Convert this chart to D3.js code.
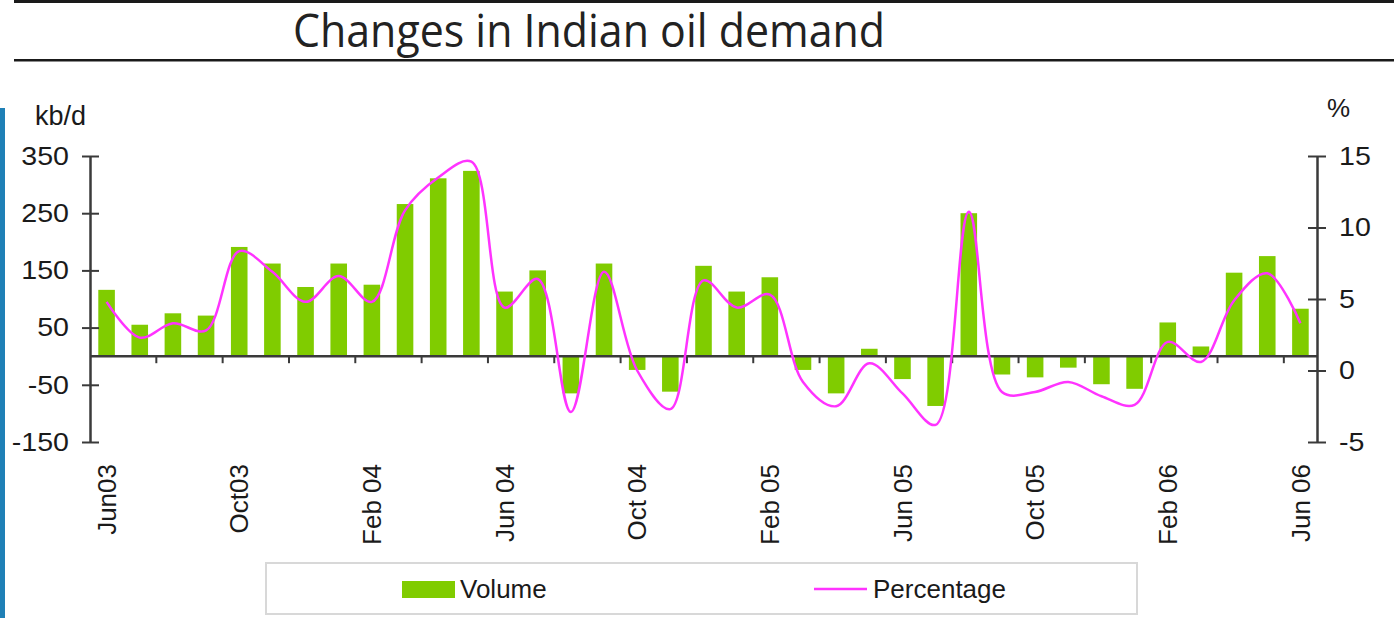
<!DOCTYPE html>
<html>
<head>
  <meta charset="UTF-8">
  <title>Changes in Indian oil demand</title>
  <script src="https://d3js.org/d3.v7.min.js"></script>
  <style>
    body { margin: 0; background: #fff; }
    text { font-family: "Liberation Sans", Arial, sans-serif; fill: #1a1a1a; }
    .title { font-family: "Open Sans", sans-serif; fill: #222; }
    .axis path, .axis line { stroke: #3a3a3a; }
  </style>
</head>
<body>
<svg width="1394" height="618"></svg>
<script>
// months Jun 2003 .. Jun 2006
var months = ["Jun03","Jul03","Aug03","Sep03","Oct03","Nov03","Dec03","Jan04","Feb04","Mar04",
  "Apr04","May04","Jun04","Jul04","Aug04","Sep04","Oct04","Nov04","Dec04","Jan05","Feb05",
  "Mar05","Apr05","May05","Jun05","Jul05","Aug05","Sep05","Oct05","Nov05","Dec05","Jan06",
  "Feb06","Mar06","Apr06","May06","Jun06"]

// kb/d
var volume = [116,55,75,71,191,162,121,162,125,266,311,324,113,150,
  -65,162,-24,-62,158,113,138,-24,-65,13,-40,-87,250,-32,
  -37,-20,-49,-57,59,17,146,175,83]

// %
var percent = [4.8,2.3,3.3,2.8,8.35,6.9,4.8,6.6,4.8,11.2,13.5,14.6,4.4,6.4,
  -2.9,6.9,0.0,-2.7,6.3,4.4,5.3,-0.8,-2.5,0.5,-1.6,-3.8,11.1,-1.5,
  -1.5,-0.8,-1.8,-2.4,2.0,0.6,4.9,6.8,3.3]

var xLabels = ["Jun03","Oct03","Feb 04","Jun 04","Oct 04","Feb 05","Jun 05","Oct 05","Feb 06","Jun 06"]
var leftTicks = [-150,-50,50,150,250,350]
var rightTicks = [-5,0,5,10,15]

var svg = d3.select("svg")
var plotL = 90, plotR = 1317, plotT = 156, plotB = 442

var x = d3.scaleBand().domain(months).range([plotL, plotR]).paddingInner(0.5).paddingOuter(0.25)
var yL = d3.scaleLinear().domain([-150, 350]).range([plotB, plotT])
var yR = d3.scaleLinear().domain([-5, 15]).range([plotB, plotT])

// plain hyphen for negatives, as in the source
function fmt(d) { return String(d) }

// header rules + title
svg.append("rect").attr("x", 14).attr("y", 0).attr("width", 1380).attr("height", 3).attr("fill", "#1a1a1a")
svg.append("rect").attr("x", 14).attr("y", 59).attr("width", 1380).attr("height", 2.5).attr("fill", "#1a1a1a")
svg.append("text").attr("class", "title")
  .attr("x", 293).attr("y", 47)
  .attr("font-size", 46)
  .attr("textLength", 592).attr("lengthAdjust", "spacingAndGlyphs")
  .text("Changes in Indian oil demand")

// blue side strip
svg.append("rect").attr("x", 0).attr("y", 108).attr("width", 5).attr("height", 510).attr("fill", "#1f80b6")

// bars
svg.append("g").selectAll("rect")
  .data(volume)
  .enter().append("rect")
  .attr("x", function(d, i) { return x(months[i]) })
  .attr("width", x.bandwidth())
  .attr("y", function(d) { return yL(Math.max(0, d)) })
  .attr("height", function(d) { return Math.abs(yL(d) - yL(0)) })
  .attr("fill", "#80cc00")

// category axis
var gap = (x.step() - x.bandwidth()) / 2
var xg = svg.append("g").attr("class", "axis")
xg.append("line").attr("x1", plotL).attr("x2", plotR)
  .attr("y1", yL(0)).attr("y2", yL(0)).attr("stroke-width", 2.5)
xg.selectAll(".xt")
  .data(months.filter(function(d, i) { return i % 2 == 0 && i > 0 }))
  .enter().append("line")
  .attr("x1", function(d) { return x(d) - gap }).attr("x2", function(d) { return x(d) - gap })
  .attr("y1", yL(0)).attr("y2", yL(0) + 7).attr("stroke-width", 2)
xg.selectAll(".xl")
  .data(xLabels)
  .enter().append("text")
  .attr("transform", function(d, i) {
    return "translate(" + (x(months[i * 4]) + x.bandwidth() / 2) + ",464) rotate(-90)"
  })
  .attr("text-anchor", "end").attr("dy", "0.35em")
  .attr("font-size", 26)
  .text(function(d) { return d })

// left axis
var gl = svg.append("g").attr("class", "axis")
  .attr("transform", "translate(" + plotL + ",0)")
  .call(d3.axisLeft(yL).tickValues(leftTicks).tickFormat(fmt).tickSize(0).tickPadding(21))
gl.select(".domain").attr("stroke-width", 2.5)
gl.selectAll(".tick line").attr("x1", -8).attr("x2", 9).attr("stroke-width", 2)
gl.selectAll(".tick text").attr("font-size", 26).attr("font-family", null).attr("fill", null)
svg.append("text").attr("x", 35).attr("y", 125).attr("font-size", 27).text("kb/d")

// right axis
var gr = svg.append("g").attr("class", "axis")
  .attr("transform", "translate(" + plotR + ",0)")
  .call(d3.axisRight(yR).tickValues(rightTicks).tickFormat(fmt).tickSize(0).tickPadding(22))
gr.select(".domain").attr("stroke-width", 2.5)
gr.selectAll(".tick line").attr("x1", -9).attr("x2", 9).attr("stroke-width", 2)
gr.selectAll(".tick text").attr("font-size", 26).attr("font-family", null).attr("fill", null)
svg.append("text").attr("x", 1327).attr("y", 117).attr("font-size", 26).text("%")

// the source text looks a little wider than Arial
svg.selectAll(".axis .tick text").each(function() {
  var w = this.getComputedTextLength()
  d3.select(this).attr("textLength", w * 1.1).attr("lengthAdjust", "spacingAndGlyphs")
})

// percentage line
var line = d3.line()
  .x(function(d, i) { return x(months[i]) + x.bandwidth() / 2 })
  .y(function(d) { return yR(d) })
  .curve(d3.curveCatmullRom.alpha(0.5))
svg.append("path").datum(percent)
  .attr("d", line)
  .attr("fill", "none").attr("stroke", "#ff33ff").attr("stroke-width", 2.5)

// legend
var lg = svg.append("g")
lg.append("rect").attr("x", 266).attr("y", 563).attr("width", 871).attr("height", 51)
  .attr("fill", "#fff").attr("stroke", "#d8d8d8").attr("stroke-width", 2)
lg.append("rect").attr("x", 402).attr("y", 581).attr("width", 53).attr("height", 17).attr("fill", "#80cc00")
lg.append("text").attr("x", 460).attr("y", 598).attr("font-size", 26).text("Volume")
lg.append("line").attr("x1", 814).attr("x2", 867).attr("y1", 589).attr("y2", 589)
  .attr("stroke", "#ff33ff").attr("stroke-width", 2.5)
lg.append("text").attr("x", 873).attr("y", 598).attr("font-size", 26).text("Percentage")
</script>
</body>
</html>
